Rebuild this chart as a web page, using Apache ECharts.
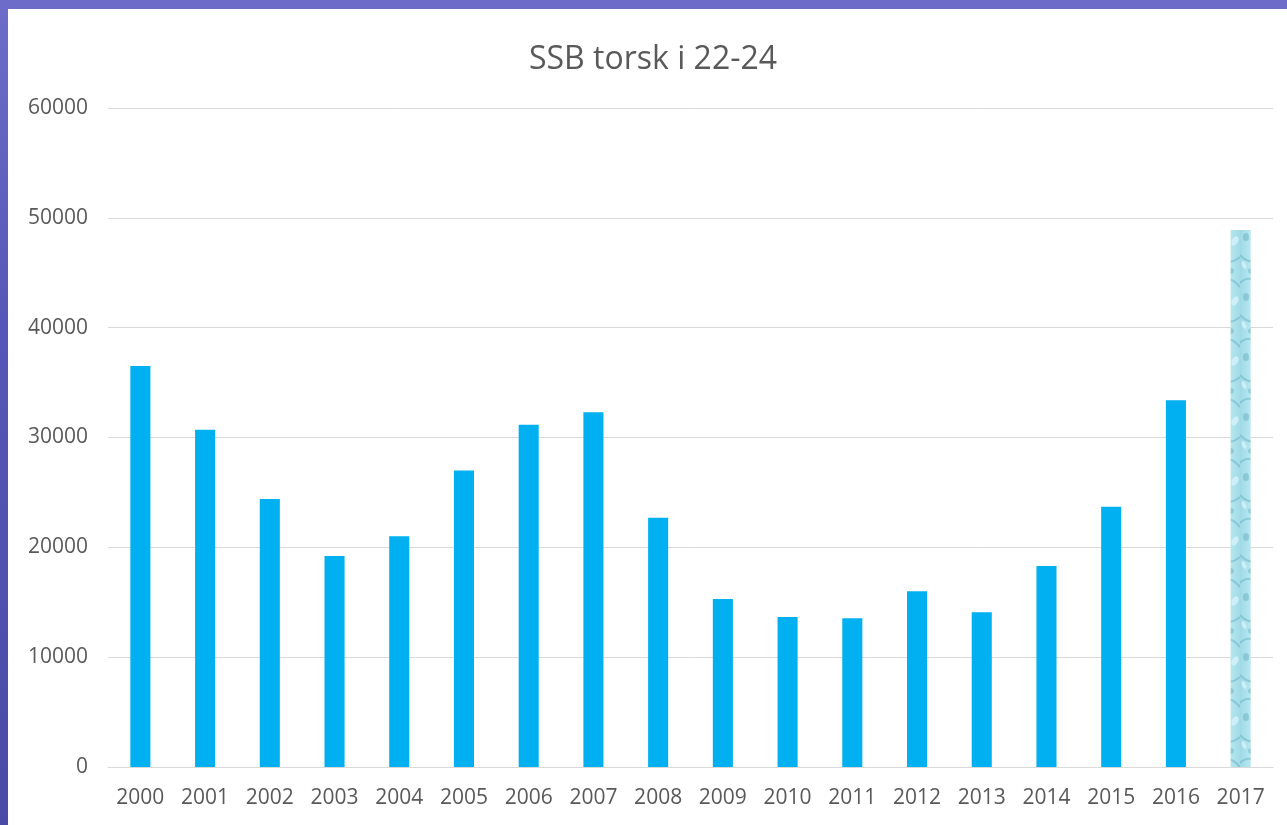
<!DOCTYPE html>
<html>
<head>
<meta charset="utf-8">
<script src="https://cdn.jsdelivr.net/npm/echarts@6/dist/echarts.min.js"></script>
<style>
  html, body { margin: 0; padding: 0; width: 1287px; height: 825px; overflow: hidden; }
  body { background: linear-gradient(180deg, #6d6dc9 0%, #5656b8 40%, #4a4aa8 100%); position: relative; }
  #chart { position: absolute; left: 8px; top: 9px; width: 1279px; height: 816px; background: #fff; }
</style>
</head>
<body>
<div id="chart"></div>
<script>
const years = ['2000', '2001', '2002', '2003', '2004', '2005', '2006', '2007', '2008',
  '2009', '2010', '2011', '2012', '2013', '2014', '2015', '2016', '2017']
const ssb = [36500, 30700, 24400, 19200, 21000, 27000, 31150, 32300, 22700,
  15300, 13650, 13550, 16000, 14100, 18300, 23700, 33400, 48900]
const yTicks = [0, 10000, 20000, 30000, 40000, 50000, 60000]

// vannmønster for siste stolpe (prognose)
function waterPattern() {
  const c = document.createElement('canvas')
  c.width = 22
  c.height = 60
  const ctx = c.getContext('2d')
  const g = ctx.createLinearGradient(0, 0, 22, 0)
  g.addColorStop(0, '#9fd9e6')
  g.addColorStop(0.5, '#b8e8f0')
  g.addColorStop(1, '#a3dbe7')
  ctx.fillStyle = g
  ctx.fillRect(0, 0, 22, 60)
  ctx.strokeStyle = 'rgba(110,180,198,0.55)'
  ctx.lineWidth = 2
  ctx.beginPath()
  ctx.moveTo(0, 6); ctx.quadraticCurveTo(11, 18, 22, 8)
  ctx.stroke()
  ctx.beginPath()
  ctx.moveTo(0, 34); ctx.quadraticCurveTo(10, 24, 22, 38)
  ctx.stroke()
  ctx.fillStyle = 'rgba(100,170,190,0.45)'
  ctx.beginPath(); ctx.ellipse(12, 22, 4, 3, 0, 0, Math.PI * 2); ctx.fill()
  ctx.beginPath(); ctx.ellipse(6, 48, 3, 4, 0, 0, Math.PI * 2); ctx.fill()
  ctx.fillStyle = 'rgba(235,252,255,0.55)'
  ctx.beginPath(); ctx.ellipse(17, 52, 3, 5, 0.5, 0, Math.PI * 2); ctx.fill()
  ctx.beginPath(); ctx.ellipse(4, 16, 2, 4, -0.4, 0, Math.PI * 2); ctx.fill()
  return c
}

const chart = echarts.init(document.getElementById('chart'))
const pattern = waterPattern()
const font = 'Open Sans'

chart.setOption({
  animation: false,
  title: {
    text: 'SSB torsk i 22-24',
    left: 516,
    top: 30,
    textStyle: { fontFamily: font, fontSize: 32, fontWeight: 'normal', color: '#595959' },
  },
  grid: { left: 100, right: 14, top: 99, bottom: 58 },
  xAxis: {
    type: 'category',
    data: years,
    axisLine: { lineStyle: { color: '#d9d9d9', width: 1 } },
    axisTick: { show: false },
    axisLabel: { fontFamily: font, fontSize: 21, color: '#595959', margin: 21 },
  },
  yAxis: {
    type: 'value',
    min: yTicks[0],
    max: yTicks[yTicks.length - 1],
    interval: 10000,
    axisLine: { show: false },
    axisTick: { show: false },
    axisLabel: { fontFamily: font, fontSize: 21, color: '#595959', margin: 20, formatter: (v) => String(v) },
    splitLine: { lineStyle: { color: '#d9d9d9', width: 1 } },
  },
  series: [{
    type: 'bar',
    barWidth: '31%',
    data: ssb.map((v, i) => i === ssb.length - 1
      ? { value: v, itemStyle: { color: { image: pattern, repeat: 'repeat' } } }
      : v),
    itemStyle: { color: '#00b0f0' },
  }],
})
</script>
</body>
</html>
